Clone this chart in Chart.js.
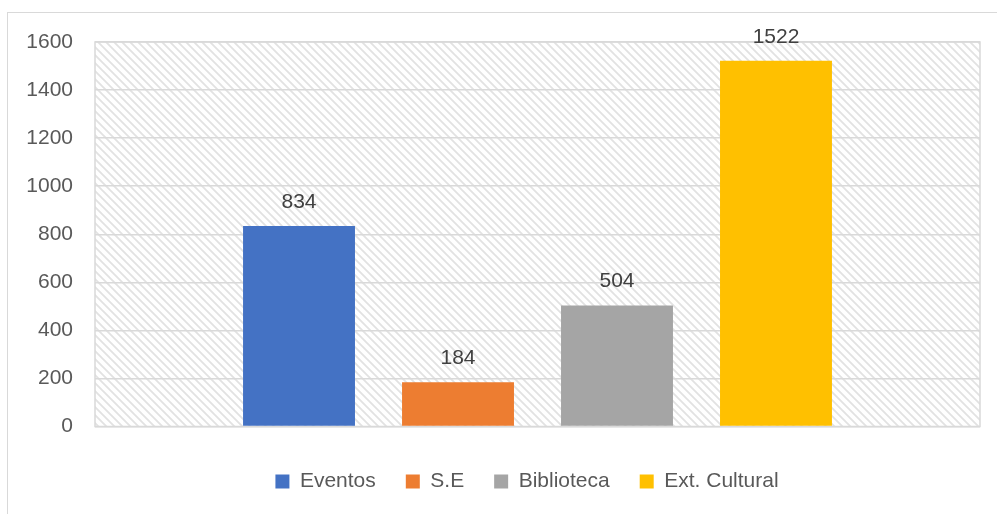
<!DOCTYPE html>
<html>
<head>
<meta charset="utf-8">
<script src="https://cdn.jsdelivr.net/npm/chart.js@4"></script>
<style>
  html, body { margin: 0; padding: 0; background: #fff; }
  #wrap { width: 997px; height: 514px; }
</style>
</head>
<body>
<div id="wrap"><canvas id="chart" width="997" height="514"></canvas></div>
<script>
// datos del grafico
const series = ['Eventos', 'S.E', 'Biblioteca', 'Ext. Cultural'];
const valores = [834, 184, 504, 1522];
const colores = ['#4472C4', '#ED7D31', '#A5A5A5', '#FFC000'];
const categorias = [''];

const fuente = '"Liberation Sans", Arial, sans-serif';

// patron de rayas diagonales para el fondo
function makePattern() {
    const c = document.createElement('canvas');
    c.width = 8; c.height = 8;
    const g = c.getContext('2d');
    g.strokeStyle = '#e2e2e2';
    g.lineWidth = 1.8;
    g.beginPath();
    g.moveTo(-2, -2); g.lineTo(10, 10);
    g.moveTo(-2, 6); g.lineTo(2, 10);
    g.moveTo(6, -2); g.lineTo(10, 2);
    g.stroke();
    return c;
}

const fondo = {
    id: 'fondo',
    afterLayout(chart) {
        // la leyenda del original esta algo mas a la derecha
        chart.legend.left += 74;
    },
    beforeDraw(chart) {
        const { ctx, chartArea: a } = chart;
        ctx.save();
        ctx.strokeStyle = '#d9d9d9';
        ctx.lineWidth = 1;
        ctx.strokeRect(7.5, 12.5, 1000, 600);
        ctx.fillStyle = ctx.createPattern(makePattern(), 'repeat');
        ctx.fillRect(a.left, a.top, a.right - a.left, a.bottom - a.top);
        ctx.restore();
    },
    beforeDatasetsDraw(chart) {
        const { ctx, chartArea: a } = chart;
        ctx.save();
        ctx.strokeStyle = '#d9d9d9';
        ctx.lineWidth = 1.5;
        ctx.strokeRect(a.left, a.top, a.right - a.left, a.bottom - a.top);
        ctx.restore();
    }
};

const etiquetas = {
    id: 'etiquetas',
    afterDatasetsDraw(chart) {
        const ctx = chart.ctx;
        ctx.save();
        ctx.font = '21px ' + fuente;
        ctx.fillStyle = '#404040';
        ctx.textAlign = 'center';
        ctx.textBaseline = 'middle';
        chart.data.datasets.forEach((ds, i) => {
            const bar = chart.getDatasetMeta(i).data[0];
            ctx.fillText(ds.data[0], bar.x, bar.y - 24);
        });
        ctx.restore();
    }
};

const datasets = series.map((nombre, i) => ({
    label: nombre,
    data: [valores[i]],
    backgroundColor: colores[i],
    borderWidth: 0,
    categoryPercentage: 0.7186,
    barPercentage: 0.704
}));

new Chart(document.getElementById('chart'), {
    type: 'bar',
    data: { labels: categorias, datasets: datasets },
    plugins: [fondo, etiquetas],
    options: {
        responsive: false,
        animation: false,
        layout: { padding: { top: 42, right: 17, bottom: 12, left: 0 } },
        plugins: {
            legend: {
                position: 'bottom',
                labels: {
                    boxWidth: 14,
                    boxHeight: 14,
                    padding: 30,
                    color: '#595959',
                    font: { family: fuente, size: 21 }
                }
            },
            tooltip: { enabled: false }
        },
        scales: {
            x: {
                grid: { display: false },
                border: { display: false },
                ticks: { display: false },
                afterFit: s => { s.height = 14.5; }
            },
            y: {
                min: 0,
                max: 1600,
                ticks: {
                    stepSize: 200,
                    padding: 22,
                    color: '#595959',
                    font: { family: fuente, size: 21 },
                    callback: v => String(v)
                },
                grid: { color: '#d9d9d9', lineWidth: 1.5, drawTicks: false },
                border: { display: false },
                afterFit: s => { s.width = 95; }
            }
        }
    }
});
</script>
</body>
</html>
